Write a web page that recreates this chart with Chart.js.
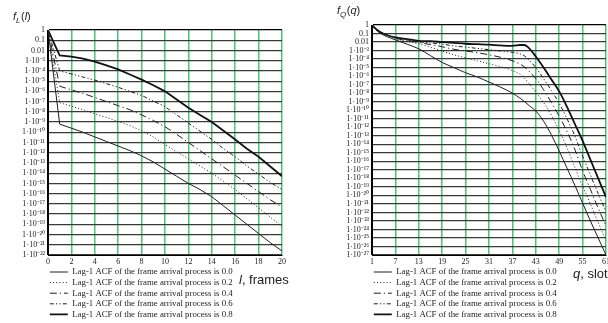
<!DOCTYPE html>
<html><head><meta charset="utf-8">
<script src="https://cdn.jsdelivr.net/npm/chart.js@4.4.1/dist/chart.umd.min.js"></script>
<style>
html,body{margin:0;padding:0;background:#fff;overflow:hidden;}
#wrap{position:relative;width:608px;height:323px;overflow:hidden;}
#cL{position:absolute;left:0;top:0;}
#cR{position:absolute;left:300px;top:0;}
</style></head><body>
<div id="wrap"><canvas id="cL" width="300" height="323"></canvas><canvas id="cR" width="316" height="323"></canvas></div>
<script>
// ---------- data ----------
const seriesNames = [
  'Lag-1 ACF of the frame arrival process is 0.0',
  'Lag-1 ACF of the frame arrival process is 0.2',
  'Lag-1 ACF of the frame arrival process is 0.4',
  'Lag-1 ACF of the frame arrival process is 0.6',
  'Lag-1 ACF of the frame arrival process is 0.8'
];

// left chart: f_L(l), l = frames
const frameX = [0,1,2,3,4,5,6,7,8,9,10,11,12,13,14,15,16,17,18,19,20];
const fL_00 = [1,6.3e-10,2.5e-10,1e-10,3.5e-11,1.26e-11,4.5e-12,1.6e-12,5.0e-13,1.26e-13,2.5e-14,5.0e-15,1e-15,2.5e-16,5.0e-17,6.3e-18,7.9e-19,1e-19,1.26e-20,1.6e-21,2.5e-22];
const fL_02 = [1,7.9e-8,3.5e-8,1.6e-8,6.3e-9,2.8e-9,1.12e-9,4.5e-10,1.4e-10,3.5e-11,6.3e-12,1.26e-12,2.5e-13,5.0e-14,1e-14,1.6e-15,2.5e-16,3.2e-17,4.0e-18,5.0e-19,6.3e-20];
const fL_04 = [1,3.2e-6,1.4e-6,6.3e-7,2.5e-7,1e-7,4.0e-8,1.6e-8,5.0e-9,1.4e-9,3.5e-10,6.3e-11,1e-11,1.6e-12,2.5e-13,4.0e-14,6.3e-15,1e-15,1.6e-16,2.5e-17,5.0e-18];
const fL_06 = [1,1e-4,5.0e-5,2.5e-5,1.26e-5,5.6e-6,2.5e-6,1e-6,4.0e-7,1.12e-7,3.2e-8,5.0e-9,7.9e-10,1.26e-10,2.0e-11,2.5e-12,4.0e-13,5.0e-14,7.9e-15,1.26e-15,2.5e-16];
const fL_08 = [1,3.2e-3,2.5e-3,1.6e-3,7.9e-4,3.5e-4,1.4e-4,4.5e-5,1.4e-5,4.0e-6,1e-6,1.6e-7,2.5e-8,5.0e-9,1e-9,1.4e-10,2.0e-11,2.5e-12,4.0e-13,4.5e-14,5.0e-15];

// right chart: f_Q(q), q = slots
const qX = [1,2,3,5,7,10,13,16,19,22,25,28,31,34,37,39,40,41,43,45,47,49,51,53,55,57,59,61];
const fQ_00 = [1,2.8e-1,1.12e-1,4.0e-2,1.8e-2,5.6e-3,1.6e-3,2.5e-4,4.0e-5,1e-5,2.5e-6,7.9e-7,2.0e-7,5.0e-8,1e-8,2.5e-9,1.12e-9,4.5e-10,7.9e-11,5.0e-12,1.26e-13,1.6e-15,1.6e-17,1.6e-19,1.26e-21,1e-23,1e-25,1e-27];
const fQ_02 = [1,3.2e-1,1.4e-1,5.6e-2,2.5e-2,1.12e-2,6.3e-3,2.5e-3,8.9e-4,3.2e-4,1.4e-4,6.3e-5,2.8e-5,1.26e-5,4.5e-6,1.6e-6,6.3e-7,2.0e-7,1.26e-8,7.9e-10,2.5e-11,4.0e-13,4.0e-15,2.0e-17,1.26e-19,1e-21,6.3e-24,5.0e-26];
const fQ_04 = [1,3.2e-1,1.4e-1,6.3e-2,2.8e-2,1.4e-2,8.9e-3,5.0e-3,2.8e-3,1.4e-3,8.9e-4,5.6e-4,3.2e-4,1.6e-4,6.3e-5,2.5e-5,1.26e-5,5.0e-6,5.0e-7,2.5e-8,7.9e-10,2.0e-11,3.2e-13,2.5e-15,7.9e-18,5.0e-20,3.2e-22,2.5e-24];
const fQ_06 = [1,3.5e-1,1.6e-1,6.3e-2,3.2e-2,1.8e-2,1.12e-2,7.9e-3,5.6e-3,3.5e-3,2.5e-3,1.8e-3,1.26e-3,8.9e-4,6.3e-4,4.0e-4,2.5e-4,1e-4,1e-5,5.0e-7,2.0e-8,6.3e-10,1e-11,1e-13,4.0e-16,2.5e-18,1.6e-20,1.26e-22];
const fQ_08 = [1,3.5e-1,1.6e-1,6.3e-2,3.5e-2,2.2e-2,1.4e-2,1.26e-2,1e-2,7.9e-3,6.3e-3,5.6e-3,5.0e-3,4.0e-3,3.5e-3,4.5e-3,4.5e-3,2.5e-3,2.0e-4,1e-5,4.0e-7,1.6e-8,2.5e-10,2.5e-12,2.5e-14,1.6e-16,1e-18,6.3e-21];

// tick values and labels
const xTicksL = [0,2,4,6,8,10,12,14,16,18,20];
const xTicksR = [1,7,13,19,25,31,37,43,49,55,61];
const yTicksL = [1,1e-1,1e-2,1e-3,1e-4,1e-5,1e-6,1e-7,1e-8,1e-9,1e-10,1e-11,1e-12,1e-13,1e-14,1e-15,1e-16,1e-17,1e-18,1e-19,1e-20,1e-21,1e-22];
const yLabelsL = ['1','0.1','0.01','1·10⁻³','1·10⁻⁴','1·10⁻⁵','1·10⁻⁶','1·10⁻⁷','1·10⁻⁸','1·10⁻⁹','1·10⁻¹⁰','1·10⁻¹¹','1·10⁻¹²','1·10⁻¹³','1·10⁻¹⁴','1·10⁻¹⁵','1·10⁻¹⁶','1·10⁻¹⁷','1·10⁻¹⁸','1·10⁻¹⁹','1·10⁻²⁰','1·10⁻²¹','1·10⁻²²'];
const yTicksR = [1,1e-1,1e-2,1e-3,1e-4,1e-5,1e-6,1e-7,1e-8,1e-9,1e-10,1e-11,1e-12,1e-13,1e-14,1e-15,1e-16,1e-17,1e-18,1e-19,1e-20,1e-21,1e-22,1e-23,1e-24,1e-25,1e-26,1e-27];
const yLabelsR = ['1','0.1','0.01','1·10⁻³','1·10⁻⁴','1·10⁻⁵','1·10⁻⁶','1·10⁻⁷','1·10⁻⁸','1·10⁻⁹','1·10⁻¹⁰','1·10⁻¹¹','1·10⁻¹²','1·10⁻¹³','1·10⁻¹⁴','1·10⁻¹⁵','1·10⁻¹⁶','1·10⁻¹⁷','1·10⁻¹⁸','1·10⁻¹⁹','1·10⁻²⁰','1·10⁻²¹','1·10⁻²²','1·10⁻²³','1·10⁻²⁴','1·10⁻²⁵','1·10⁻²⁶','1·10⁻²⁷'];

// ---------- styles ----------
const SERIF = '"Liberation Serif", "Times New Roman", serif';
const SANS = '"Liberation Sans", Arial, sans-serif';
const lineStyles = [
  {color:'#1e1e1e', width:1,   dash:[]},
  {color:'#1e1e1e', width:1,   dash:[1,2.2]},
  {color:'#1e1e1e', width:1,   dash:[7,3,1.2,3]},
  {color:'#1e1e1e', width:1,   dash:[4,2.2,1.2,2.2,1.2,2.2]},
  {color:'#111111', width:1.8, dash:[]}
];

const axisText = {
  id: 'axisText',
  afterDraw(chart, args, o) {
    const ctx = chart.ctx;
    ctx.save();
    ctx.fillStyle = '#222';
    ctx.textBaseline = 'alphabetic';
    ctx.textAlign = 'left';
    let x = o.yX, y = o.yY;
    const put = (t, font, dy) => { ctx.font = font; ctx.fillText(t, x, y + (dy || 0)); x += ctx.measureText(t).width; };
    put('f', 'italic 11px ' + SANS);
    put(o.sub, 'italic 8px ' + SANS, 3);
    x += 0.5;
    put('(', '11px ' + SANS);
    put(o.arg, 'italic 11px ' + SANS);
    put(')', '11px ' + SANS);
    x = o.xX; y = o.xY;
    put(o.xVar, 'italic 13px ' + SANS);
    put(o.xRest, '13px ' + SANS);
    ctx.restore();
  }
};

function build(canvasId, xs, series, xTicks, yTicks, yLabels, cfg) {
  const datasets = series.map((vals, i) => ({
    label: seriesNames[i],
    data: xs.map((x, k) => ({x: x, y: vals[k]})),
    borderColor: lineStyles[i].color,
    backgroundColor: lineStyles[i].color,
    borderWidth: lineStyles[i].width,
    borderDash: lineStyles[i].dash,
    pointRadius: 0,
    fill: false,
    tension: 0,
    cubicInterpolationMode: cfg.smooth ? 'monotone' : 'default'
  }));
  return new Chart(document.getElementById(canvasId), {
    type: 'line',
    data: {datasets},
    plugins: [axisText],
    options: {
      responsive: false,
      animation: false,
      devicePixelRatio: 1,
      events: [],
      layout: {autoPadding: false, padding: {left: 0, top: cfg.top, right: cfg.right, bottom: -5.8}},
      scales: {
        x: {
          type: 'linear', min: xTicks[0], max: xTicks[xTicks.length - 1],
          afterBuildTicks: s => { s.ticks = xTicks.map(v => ({value: v})); },
          afterFit: s => { s.height = 10.8; },
          ticks: {autoSkip: false, maxRotation: 0, padding: 2, color: '#222',
                  font: {family: SERIF, size: 8}, callback: v => String(v)},
          grid: {color: c => c.index === 0 ? '#000' : '#4cc27a', lineWidth: 1.5, drawTicks: false},
          border: {display: true, color: '#000', width: 1}
        },
        y: {
          type: 'logarithmic', min: yTicks[yTicks.length - 1], max: yTicks[0],
          afterBuildTicks: s => { s.ticks = yTicks.slice().reverse().map(v => ({value: v})); },
          afterFit: s => { s.width = cfg.yWidth; },
          ticks: {autoSkip: false, padding: 3, color: '#222',
                  font: {family: SERIF, size: 8},
                  callback: v => { const i = yTicks.indexOf(v); return i >= 0 ? yLabels[i] : ''; }},
          grid: {color: c => (c.tick && c.tick.value === yTicks[0]) ? '#000' : '#3a3a3a', lineWidth: 1.2, drawTicks: false},
          border: {display: true, color: '#000', width: 1}
        }
      },
      plugins: {
        tooltip: {enabled: false},
        title: {display: false},
        legend: {
          position: 'bottom', align: 'start', fullSize: false,
          labels: {
            usePointStyle: true, pointStyle: 'line', pointStyleWidth: 18, boxWidth: 18,
            padding: 1.8, color: '#222', font: {family: SERIF, size: 8.8},
            generateLabels: chart => {
              const items = Chart.defaults.plugins.legend.labels.generateLabels(chart);
              items.forEach(it => {
                const ds = chart.data.datasets[it.datasetIndex];
                it.lineDash = ds.borderDash; it.lineWidth = ds.borderWidth;
                it.strokeStyle = ds.borderColor; it.pointStyle = 'line';
              });
              return items;
            }
          }
        },
        axisText: cfg.text
      }
    }
  });
}

build('cL', frameX, [fL_00, fL_02, fL_04, fL_06, fL_08], xTicksL, yTicksL, yLabelsL,
  {top: 30, right: 18, yWidth: 48, smooth: false,
   text: {yX: 13, yY: 20, sub: 'L', arg: 'l', xX: 239, xY: 284, xVar: 'l', xRest: ', frames'}});
build('cR', qX, [fQ_00, fQ_02, fQ_04, fQ_06, fQ_08], xTicksR, yTicksR, yLabelsR,
  {top: 25, right: 10, yWidth: 72, smooth: true,
   text: {yX: 37, yY: 14, sub: 'Q', arg: 'q', xX: 273, xY: 278, xVar: 'q', xRest: ', slots'}});
</script>
</body></html>
